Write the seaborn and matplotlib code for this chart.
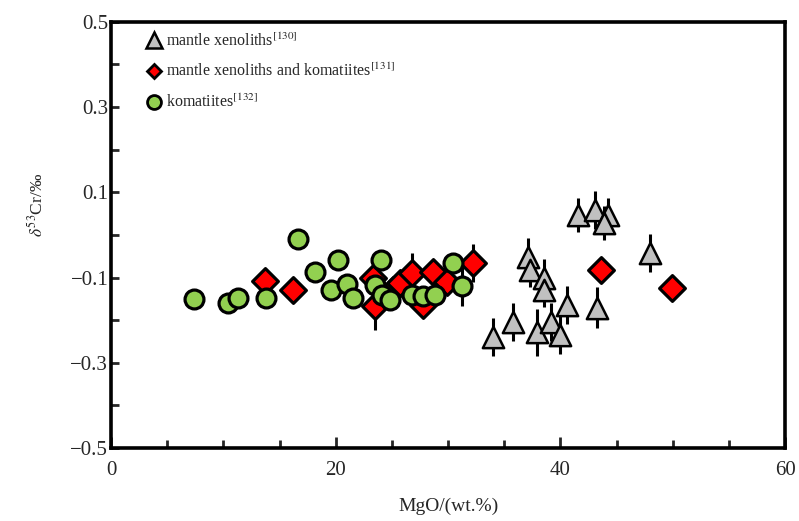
import matplotlib
matplotlib.use("Agg")
import matplotlib.pyplot as plt
import numpy as np
import pandas as pd
import seaborn as sns
from matplotlib.lines import Line2D
from matplotlib.ticker import FixedLocator, MultipleLocator

# ---- data ----
# mantle xenoliths [130]  (grey triangles)
xeno_mgo = [41.6, 43.1, 44.2, 43.9, 37.1, 37.3, 38.5, 38.5, 40.6, 43.3,
            35.8, 37.9, 39.2, 40.0, 34.0, 48.0]
xeno_d53 = [0.047, 0.059, 0.047, 0.028, -0.052, -0.082, -0.101, -0.129, -0.164, -0.171,
            -0.204, -0.228, -0.204, -0.235, -0.239, -0.042]
xeno_err = [0.040, 0.045, 0.040, 0.040, 0.045, 0.040, 0.045, 0.040, 0.045, 0.048,
            0.045, 0.055, 0.045, 0.045, 0.045, 0.045]

# mantle xenoliths and komatiites [131]  (red diamonds)
mk_mgo = [13.7, 16.2, 23.3, 23.5, 25.1, 25.7, 26.8, 28.7, 27.8, 29.9, 32.2, 43.6, 49.9]
mk_d53 = [-0.108, -0.129, -0.101, -0.167, -0.129, -0.113, -0.089, -0.087, -0.164, -0.110,
          -0.066, -0.082, -0.124]
mk_err = [0.02, 0.02, 0.03, 0.055, 0.02, 0.02, 0.047, 0.03, 0.03, 0.03, 0.045, 0.02, 0.02]

# komatiites [132]  (green circles)
kom_mgo = [7.4, 10.4, 11.3, 13.8, 16.6, 18.2, 19.6, 20.2, 21.0, 21.5,
           24.0, 23.5, 24.1, 24.8, 26.8, 27.8, 28.8, 30.4, 31.2]
kom_d53 = [-0.150, -0.160, -0.148, -0.148, -0.009, -0.087, -0.129, -0.059, -0.115, -0.148,
           -0.059, -0.117, -0.141, -0.153, -0.141, -0.143, -0.141, -0.066, -0.120]
kom_err = [0.02, 0.02, 0.02, 0.02, 0.02, 0.02, 0.02, 0.02, 0.02, 0.02,
           0.02, 0.02, 0.02, 0.02, 0.02, 0.02, 0.02, 0.02, 0.047]

series_labels = ["mantle xenoliths$^{[130]}$",
                 "mantle xenoliths and komatiites$^{[131]}$",
                 "komatiites$^{[132]}$"]
x_ticks = [0, 20, 40, 60]
x_tick_labels = ["0", "20", "40", "60"]
y_ticks = [-0.5, -0.3, -0.1, 0.1, 0.3, 0.5]
y_tick_labels = ["\u22120.5", "\u22120.3", "\u22120.1", "0.1", "0.3", "0.5"]
y_minor = [-0.4, -0.2, 0.0, 0.2, 0.4]
x_label = "MgO/(wt.%)"
y_label = "$\\delta^{53}$Cr/\u2030"

df_x = pd.DataFrame({"MgO": xeno_mgo, "d53": xeno_d53, "err": xeno_err})
df_mk = pd.DataFrame({"MgO": mk_mgo, "d53": mk_d53, "err": mk_err})
df_k = pd.DataFrame({"MgO": kom_mgo, "d53": kom_d53, "err": kom_err})

sns.set_theme(style="white")
plt.rcParams["font.family"] = ["Liberation Serif", "DejaVu Serif"]
plt.rcParams["mathtext.fontset"] = "stix"

fig = plt.figure(figsize=(7.99, 5.21), dpi=100)
ax = fig.add_axes([0.139, 0.140, 0.8435, 0.818])

grey = "#C0C0C0"
red = "#FF0000"
green = "#92D050"

# triangles
ax.errorbar(df_x["MgO"], df_x["d53"], yerr=df_x["err"], fmt="none",
            ecolor="black", elinewidth=2.2, capsize=0, zorder=2)
sns.scatterplot(data=df_x, x="MgO", y="d53", marker="^", s=235, color=grey,
                edgecolor="black", linewidth=1.8, ax=ax, zorder=3, legend=False)
# diamonds
ax.errorbar(df_mk["MgO"], df_mk["d53"], yerr=df_mk["err"], fmt="none",
            ecolor="black", elinewidth=2.2, capsize=0, zorder=4)
sns.scatterplot(data=df_mk, x="MgO", y="d53", marker="D", s=172, color=red,
                edgecolor="black", linewidth=2.3, ax=ax, zorder=5, legend=False)
# circles
ax.errorbar(df_k["MgO"], df_k["d53"], yerr=df_k["err"], fmt="none",
            ecolor="black", elinewidth=2.2, capsize=0, zorder=6)
sns.scatterplot(data=df_k, x="MgO", y="d53", marker="o", s=185, color=green,
                edgecolor="black", linewidth=2.3, ax=ax, zorder=7, legend=False)

ax.set_xlim(0, 60)
ax.set_ylim(-0.5, 0.5)
ax.set_xticks(x_ticks)
ax.set_xticklabels(x_tick_labels)
ax.xaxis.set_minor_locator(MultipleLocator(5))
ax.set_yticks(y_ticks)
ax.set_yticklabels(y_tick_labels)
ax.yaxis.set_minor_locator(FixedLocator(y_minor))

ax.tick_params(axis="x", which="major", direction="in", length=8, width=2,
               labelsize=15, pad=9, bottom=True, top=False)
ax.tick_params(axis="x", which="minor", direction="in", length=5.5, width=2,
               bottom=True, top=False)
ax.tick_params(axis="y", which="both", direction="in", length=6, width=2,
               labelsize=15, pad=2, left=True, right=False)

for sp in ax.spines.values():
    sp.set_linewidth(2.6)
    sp.set_color("black")

ax.set_xlabel(x_label, fontsize=14, labelpad=13)
ax.set_ylabel(y_label, fontsize=12.5)
ax.yaxis.set_label_coords(-0.095, 0.57)

handles = [
    Line2D([], [], marker="^", linestyle="none", markersize=11, markerfacecolor=grey,
           markeredgecolor="black", markeredgewidth=1.8),
    Line2D([], [], marker="D", linestyle="none", markersize=7.5, markerfacecolor=red,
           markeredgecolor="black", markeredgewidth=2.0),
    Line2D([], [], marker="o", linestyle="none", markersize=10, markerfacecolor=green,
           markeredgecolor="black", markeredgewidth=2.0),
]
ax.legend(handles, series_labels, loc="upper left", bbox_to_anchor=(0.038, 1.0),
          frameon=False, fontsize=11.5, handlelength=0.9, handletextpad=0.3,
          labelspacing=0.85, borderaxespad=0.25)

fig.savefig("out.png", dpi=100)
